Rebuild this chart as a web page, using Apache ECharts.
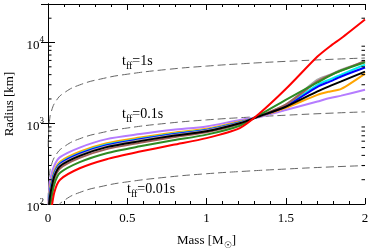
<!DOCTYPE html>
<html><head><meta charset="utf-8">
<script src="https://cdn.jsdelivr.net/npm/echarts@6/dist/echarts.min.js"></script>
<style>html,body{margin:0;padding:0;background:#fff}#c{width:374px;height:251px}</style>
</head><body><div id="c"></div>
<script>
// ---- data ----
const mass = [0, 0.003, 0.008, 0.017, 0.04, 0.076, 0.2, 0.37, 0.58, 0.79, 1.0, 1.21, 1.33, 1.5, 1.7, 1.78, 1.85, 2.0];
const purple = [60, 100, 160, 215, 300, 380, 500, 636, 734, 831, 913, 1100, 1190, 1460, 1860, 2050, 2200, 2600];
const orange = [48, 81, 129, 174, 258, 334, 444, 566, 665, 764, 853, 1050, 1200, 1550, 2250, 2480, 2660, 4120];
const cyan   = [45, 75, 120, 162, 244, 320, 427, 545, 641, 741, 834, 1032, 1210, 1650, 3000, 3500, 4000, 5330];
const blue   = [43, 73, 116, 157, 239, 313, 419, 536, 632, 731, 826, 1026, 1210, 1620, 2830, 3300, 3800, 4900];
const grey   = [41, 69, 110, 149, 230, 303, 406, 520, 617, 716, 813, 1014, 1215, 1700, 3470, 4000, 4600, 5800];
const brown  = [35, 59, 94, 127, 205, 276, 372, 478, 572, 671, 773, 979, 1220, 1700, 3300, 3950, 4500, 5900];
const black  = [39, 66, 104, 141, 221, 294, 394, 506, 601, 700, 798, 1002, 1215, 1600, 2480, 2900, 3300, 4370];
const green  = [28, 48, 76, 103, 176, 243, 330, 426, 518, 615, 723, 933, 1250, 1950, 3200, 3900, 4500, 5700];
const red    = [20, 35, 55, 75, 140, 200, 277, 359, 446, 541, 655, 872, 1300, 2650, 6700, 9000, 11300, 19300];

const ffMass = [0.001, 0.005, 0.01, 0.02, 0.05, 0.1, 0.2, 0.35, 0.5, 0.75, 1.0, 1.25, 1.5, 1.75, 2.0];
const ff1s   = [510, 873, 1100, 1385, 1880, 2369, 2985, 3594, 4051, 4637, 5104, 5498, 5842, 6150, 6430];
const ff01s  = [110, 188, 237, 298, 405, 510, 643, 774, 873, 999, 1100, 1184, 1258, 1325, 1385];
const ff001s = [24, 41, 51, 64, 87, 110, 139, 167, 188, 215, 237, 255, 271, 286, 299];

const xTicks = [0, 0.5, 1, 1.5, 2];
const yMinorTicks = [200, 300, 400, 500, 600, 700, 800, 900, 2000, 3000, 4000, 5000, 6000, 7000, 8000, 9000, 20000];

// ---- chart ----
const FONT = 'Liberation Serif';
const pair = (xs, ys) => xs.map((x, i) => [x, ys[i]]);
const curves = [
  ['purple', purple, '#b57cff'],
  ['orange', orange, '#ffa500'],
  ['cyan', cyan, '#00eeee'],
  ['blue', blue, '#0000ff'],
  ['grey', grey, '#a8a8a8'],
  ['brown', brown, '#a0605a'],
  ['green', green, '#2e8b22'],
  ['black', black, '#000000'],
  ['red', red, '#ff0000']
];
const series = [];
[ff1s, ff01s, ff001s].forEach(d => series.push({
  type: 'line', data: pair(ffMass, d), showSymbol: false, smooth: true, z: 1,
  lineStyle: { color: '#666', width: 1, type: [8, 4] }
}));
curves.forEach(c => series.push({
  name: c[0], type: 'line', data: pair(mass, c[1]), showSymbol: false,
  smooth: 0.25, z: 3,
  lineStyle: { color: c[2], width: 2 }
}));
series.push({
  type: 'custom', z: 5, silent: true,
  data: yMinorTicks.map(v => [0, v]),
  encode: { x: 0, y: 1 },
  renderItem: (params, api) => {
    const v = api.value(1);
    const p0 = api.coord([0, v]);
    const p1 = api.coord([2, v]);
    return { type: 'group', children: [
      { type: 'line', shape: { x1: p0[0], y1: p0[1], x2: p0[0] + 3.5, y2: p0[1] }, style: { stroke: '#000', lineWidth: 1 } },
      { type: 'line', shape: { x1: p1[0] - 3.5, y1: p1[1], x2: p1[0], y2: p1[1] }, style: { stroke: '#000', lineWidth: 1 } }
    ]};
  }
});

const axisCommonX = {
  type: 'value', min: 0, max: 2, interval: 0.5,
  axisLine: { lineStyle: { color: '#000', width: 1 } },
  axisTick: { inside: true, length: 6, lineStyle: { color: '#000' } },
  minorTick: { show: true, splitNumber: 5, length: 3, lineStyle: { color: '#000' } },
  splitLine: { show: false }, minorSplitLine: { show: false }
};
const axisCommonY = {
  type: 'log', logBase: 10, min: 100, max: 30000,
  axisLine: { lineStyle: { color: '#000', width: 1 } },
  axisTick: { inside: true, length: 7, lineStyle: { color: '#000' } },
  splitLine: { show: false }
};
const subRich = {
  t: { fontFamily: FONT, fontSize: 13, color: '#000', lineHeight: 14, verticalAlign: 'top' },
  s: { fontFamily: FONT, fontSize: 9, color: '#000', lineHeight: 10, verticalAlign: 'top', padding: [7, 0, 0, 0] }
};
const annRich = {
  t: { fontFamily: FONT, fontSize: 14, color: '#000', lineHeight: 15, verticalAlign: 'top' },
  s: { fontFamily: FONT, fontSize: 10, color: '#000', lineHeight: 11, verticalAlign: 'top', padding: [7, 0, 0, 0] }
};

const chart = echarts.init(document.getElementById('c'), null, { renderer: 'canvas' });
chart.setOption({
  animation: false,
  backgroundColor: '#fff',
  grid: { left: 48, right: 9, top: 4, bottom: 47, outerBoundsMode: 'none', containLabel: false },
  xAxis: [
    Object.assign({}, axisCommonX, {
      position: 'bottom',
      name: '{t|Mass [M}{s|☉}{t|]}', nameLocation: 'middle', nameGap: 30,
      nameTextStyle: { rich: subRich },
      axisLabel: { margin: 8, fontFamily: FONT, fontSize: 13, color: '#000',
        formatter: v => xTicks.indexOf(v) >= 0 ? String(v) : '' }
    }),
    Object.assign({}, axisCommonX, { position: 'top', axisLabel: { show: false } })
  ],
  yAxis: [
    Object.assign({}, axisCommonY, {
      position: 'left',
      name: 'Radius [km]', nameLocation: 'middle', nameGap: 31, nameRotate: 90,
      nameTextStyle: { fontFamily: FONT, fontSize: 13, color: '#000' },
      axisLabel: { margin: 4, fontFamily: FONT, color: '#000',
        formatter: v => {
          const e = Math.log10(v);
          if (Math.abs(e - Math.round(e)) > 1e-6) return '';
          return '{b|10}{e|' + Math.round(e) + '}';
        },
        rich: {
          b: { fontFamily: FONT, fontSize: 13, color: '#000', lineHeight: 14, verticalAlign: 'top', padding: [4, 0, 0, 0] },
          e: { fontFamily: FONT, fontSize: 9, color: '#000', lineHeight: 10, verticalAlign: 'top' }
        }
      }
    }),
    Object.assign({}, axisCommonY, { position: 'right', axisLabel: { show: false } })
  ],
  graphic: [
    { type: 'text', left: 122, top: 54, style: { text: '{t|t}{s|ff}{t|=1s}', rich: annRich } },
    { type: 'text', left: 122, top: 107, style: { text: '{t|t}{s|ff}{t|=0.1s}', rich: annRich } },
    { type: 'text', left: 127, top: 182, style: { text: '{t|t}{s|ff}{t|=0.01s}', rich: annRich } }
  ],
  series: series
});
</script></body></html>
